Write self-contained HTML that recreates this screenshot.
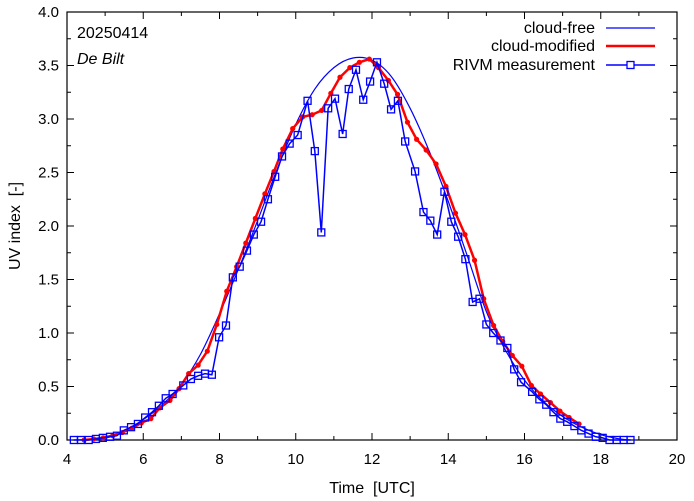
<!DOCTYPE html>
<html><head><meta charset="utf-8"><style>
body{margin:0;background:#fff;}
svg{display:block;font-family:"Liberation Sans",sans-serif;}
svg text{white-space:pre;}
</style></head><body>
<svg id="chart" width="694" height="501"></svg>
<script>
const cfTimes=[4.2,4.5,5,5.5,6,6.5,7,7.5,8,8.5,9,9.5,10,10.5,11,11.5,12,12.5,13,13.5,14,14.5,15,15.5,16,16.5,17,17.5,18,18.5,18.8];
const cfValues=[0,0.005,0.03,0.09,0.19,0.33,0.52,0.80,1.18,1.60,2.05,2.52,2.95,3.28,3.48,3.57,3.55,3.40,3.10,2.70,2.23,1.72,1.20,0.84,0.56,0.36,0.22,0.12,0.05,0.01,0];
const cmTimes=[4.45,4.7,4.95,5.2,5.45,5.7,5.95,6.2,6.43,6.7,6.94,7.19,7.44,7.68,7.93,8.19,8.45,8.69,8.94,9.19,9.43,9.66,9.92,10.18,10.43,10.68,10.92,11.16,11.42,11.67,11.93,12.17,12.43,12.67,12.93,13.17,13.42,13.68,13.94,14.19,14.44,14.69,14.93,15.19,15.43,15.68,15.93,16.18,16.42,16.68,16.93,17.17,17.43];
const cmValues=[0,0.01,0.02,0.04,0.07,0.11,0.16,0.20,0.30,0.37,0.48,0.62,0.70,0.83,1.08,1.39,1.62,1.84,2.07,2.30,2.51,2.72,2.91,3.02,3.04,3.08,3.24,3.39,3.48,3.53,3.56,3.48,3.36,3.23,2.97,2.81,2.71,2.58,2.37,2.12,1.92,1.68,1.32,1.07,0.92,0.79,0.69,0.51,0.43,0.35,0.27,0.21,0.15];
const msTimes=[4.18,4.37,4.57,4.76,4.94,5.13,5.31,5.49,5.68,5.86,6.05,6.23,6.41,6.59,6.77,7.05,7.25,7.44,7.62,7.8,7.99,8.17,8.35,8.53,8.72,8.9,9.09,9.27,9.46,9.64,9.84,10.05,10.31,10.5,10.67,10.85,11.03,11.23,11.39,11.58,11.77,11.95,12.13,12.32,12.5,12.68,12.87,13.13,13.35,13.53,13.71,13.9,14.08,14.26,14.45,14.64,14.82,15.0,15.18,15.37,15.55,15.73,15.91,16.2,16.39,16.57,16.76,16.94,17.12,17.31,17.49,17.68,17.87,18.05,18.23,18.42,18.6,18.78];
const msValues=[0,0,0,0.01,0.02,0.03,0.04,0.09,0.12,0.15,0.21,0.26,0.32,0.39,0.43,0.51,0.57,0.60,0.62,0.61,0.96,1.07,1.52,1.62,1.77,1.92,2.04,2.25,2.46,2.65,2.77,2.85,3.17,2.70,1.94,3.10,3.19,2.86,3.28,3.46,3.18,3.35,3.53,3.33,3.09,3.17,2.79,2.51,2.13,2.05,1.92,2.32,2.04,1.90,1.69,1.29,1.32,1.08,1.00,0.93,0.86,0.66,0.54,0.45,0.38,0.33,0.26,0.20,0.17,0.13,0.09,0.06,0.03,0.02,0,0,0,0];
const xTicks=[4,6,8,10,12,14,16,18,20];
const yTicks=[0,0.5,1,1.5,2,2.5,3,3.5,4];

const NS="http://www.w3.org/2000/svg";
const svg=document.getElementById('chart');
const L=67,R=677,T=12,B=440;
const X=v=>L+(v-4)/16*(R-L);
const Y=v=>B-v/4*(B-T);
function mk(tag,attrs,parent){const e=document.createElementNS(NS,tag);for(const k in attrs)e.setAttribute(k,attrs[k]);(parent||svg).appendChild(e);return e;}

const axes=mk('g',{stroke:'#000','stroke-width':1});


for(let v=4;v<=20;v+=1){const len=(v%2===0)?7:4;const x=X(v);
 mk('line',{x1:x,y1:B,x2:x,y2:B-len},axes);mk('line',{x1:x,y1:T,x2:x,y2:T+len},axes);}
for(let v=0;v<=4.001;v+=0.25){const len=(Math.abs(v*2-Math.round(v*2))<1e-6)?7:4;const y=Y(v);
 mk('line',{x1:L,y1:y,x2:L+len,y2:y},axes);mk('line',{x1:R,y1:y,x2:R-len,y2:y},axes);}
const frame=mk('rect',{x:L,y:T,width:R-L,height:B-T,fill:'none',stroke:'#000','stroke-width':1.2});


xTicks.forEach(v=>{const t=mk('text',{x:X(v),y:B+24,'text-anchor':'middle','font-size':15});t.textContent=v;
 
 });
yTicks.forEach(v=>{const t=mk('text',{x:L-8,y:Y(v)+5,'text-anchor':'end','font-size':15});t.textContent=v.toFixed(1);
 
 });
const xl=mk('text',{x:(L+R)/2,y:493,'text-anchor':'middle','font-size':16});xl.textContent='Time  [UTC]';


const yl=mk('text',{x:0,y:0,'text-anchor':'middle','font-size':16,transform:`translate(20,${(T+B)/2}) rotate(-90)`});yl.textContent='UV index  [-]';


const d1=mk('text',{x:77,y:38,'font-size':16});d1.textContent='20250414';


const d2=mk('text',{x:77,y:64,'font-size':16,'font-style':'italic'});d2.textContent='De Bilt';



function smooth(xs,ys){const p=xs.map((x,i)=>[X(x),Y(ys[i])]);let d=`M${p[0][0]},${p[0][1]}`;
 for(let i=0;i<p.length-1;i++){const p0=p[i-1]||p[i],p1=p[i],p2=p[i+1],p3=p[i+2]||p2;
  d+=` C${p1[0]+(p2[0]-p0[0])/6},${p1[1]+(p2[1]-p0[1])/6} ${p2[0]-(p3[0]-p1[0])/6},${p2[1]-(p3[1]-p1[1])/6} ${p2[0]},${p2[1]}`;}
 return d;}
const cf=mk('path',{d:smooth(cfTimes,cfValues),fill:'none',stroke:'#0000ff','stroke-width':1.2});


const cm=mk('polyline',{points:cmTimes.map((t,i)=>X(t)+','+Y(cmValues[i])).join(' '),fill:'none',stroke:'#ff0000','stroke-width':2.5});


cmTimes.forEach((t,i)=>{const c=mk('circle',{cx:X(t),cy:Y(cmValues[i]),r:2.6,fill:'#ff0000'});
 
 });
const ms=mk('polyline',{points:msTimes.map((t,i)=>X(t)+','+Y(msValues[i])).join(' '),fill:'none',stroke:'#0000ff','stroke-width':1.5});


msTimes.forEach((t,i)=>{const r=mk('rect',{x:X(t)-3.5,y:Y(msValues[i])-3.5,width:7,height:7,fill:'none',stroke:'#0000ff','stroke-width':1.3});
 
 });

const lg=mk('g',{});


const lt=[['cloud-free',28],['cloud-modified',46],['RIVM measurement',65]];
lt.forEach(([s,y],i)=>{const t=mk('text',{x:595,y:y+5,'text-anchor':'end','font-size':16},lg);t.textContent=s;
 
 
 mk('line',{x1:606,y1:y,x2:655,y2:y,stroke:i===1?'#ff0000':'#0000ff','stroke-width':i===0?1.2:(i===1?2.5:1.5)},lg);
 if(i===2)mk('rect',{x:627,y:y-3.5,width:7,height:7,fill:'#fff',stroke:'#0000ff','stroke-width':1.3},lg);});
</script>
</body></html>
